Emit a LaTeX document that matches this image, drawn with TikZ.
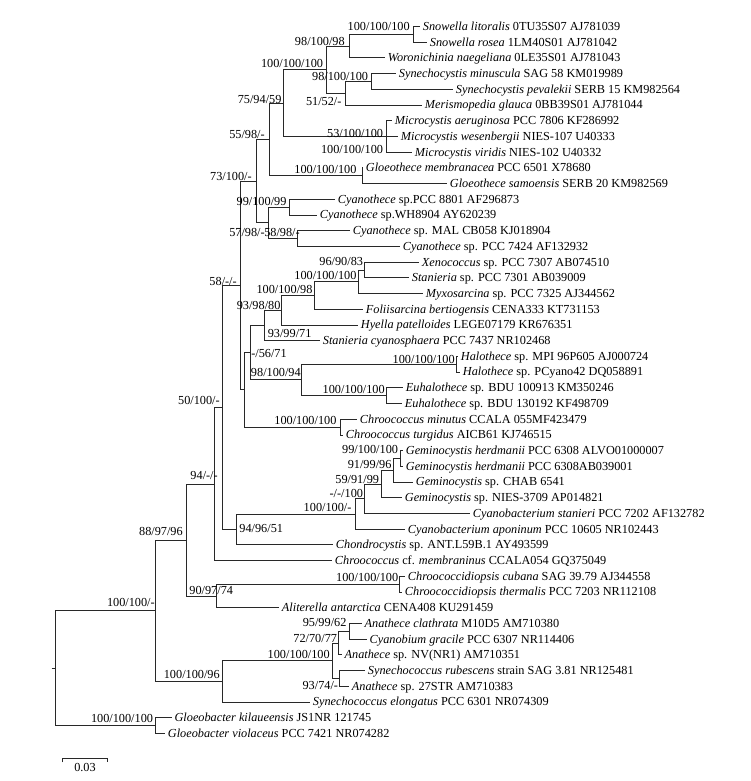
\documentclass[tikz,border=0pt]{standalone}
\usepackage{fontspec}
\setmainfont{Liberation Serif}
\usepackage{tikz}

\tikzset{
  branch/.style={color={rgb, 255:red, 40; green, 40; blue, 40 }, line width=0.75pt},
  taxon/.style={anchor=west, inner sep=2pt, text height=1.6ex, text depth=0.35ex},
  support/.style={anchor=east, inner sep=0pt, text height=1.6ex, text depth=0.3ex},
}

\begin{document}
\begin{tikzpicture}[x=0.75pt,y=0.75pt,yscale=-1,xscale=1, font=\fontsize{9.2}{11}\selectfont]
%set diagram left start at 0, and has height of 781
\useasboundingbox (0,0) rectangle (750,781);

% Text Node: taxa
\node [taxon] (t1) at (420,26.5) {\textit{Snowella litoralis} 0TU35S07 AJ781039};
\node [taxon] (t2) at (427,42.2) {\textit{Snowella rosea} 1LM40S01 AJ781042};
\node [taxon] (t3) at (385,57.9) {\textit{Woronichinia naegeliana} 0LE35S01 AJ781043};
\node [taxon] (t4) at (396,73.6) {\textit{Synechocystis minuscula} SAG 58 KM019989};
\node [taxon] (t5) at (453,89.3) {\textit{Synechocystis pevalekii} SERB 15 KM982564};
\node [taxon] (t6) at (422,105.1) {\textit{Merismopedia glauca} 0BB39S01 AJ781044};
\node [taxon] (t7) at (392,120.8) {\textit{Microcystis aeruginosa} PCC 7806 KF286992};
\node [taxon] (t8) at (398,136.5) {\textit{Microcystis wesenbergii} NIES-107 U40333};
\node [taxon] (t9) at (412,152.2) {\textit{Microcystis viridis} NIES-102 U40332};
\node [taxon] (t10) at (363,167.9) {\textit{Gloeothece membranacea} PCC 6501 X78680};
\node [taxon] (t11) at (447,183.6) {\textit{Gloeothece samoensis} SERB 20 KM982569};
\node [taxon] (t12) at (335,199.3) {\textit{Cyanothece} sp.PCC 8801 AF296873};
\node [taxon] (t13) at (317,215.0) {\textit{Cyanothece} sp.WH8904 AY620239};
\node [taxon] (t14) at (350,230.7) {\textit{Cyanothece} sp. MAL CB058 KJ018904};
\node [taxon] (t15) at (400,246.4) {\textit{Cyanothece} sp. PCC 7424 AF132932};
\node [taxon] (t16) at (419,262.2) {\textit{Xenococcus} sp. PCC 7307 AB074510};
\node [taxon] (t17) at (409,277.9) {\textit{Stanieria} sp. PCC 7301 AB039009};
\node [taxon] (t18) at (423,293.6) {\textit{Myxosarcina} sp. PCC 7325 AJ344562};
\node [taxon] (t19) at (363,309.3) {\textit{Foliisarcina bertiogensis} CENA333 KT731153};
\node [taxon] (t20) at (358,325.0) {\textit{Hyella patelloides} LEGE07179 KR676351};
\node [taxon] (t21) at (320,340.7) {\textit{Stanieria cyanosphaera} PCC 7437 NR102468};
\node [taxon] (t22) at (458,356.4) {\textit{Halothece} sp. MPI 96P605 AJ000724};
\node [taxon] (t23) at (460,372.1) {\textit{Halothece} sp. PCyano42 DQ058891};
\node [taxon] (t24) at (403,387.8) {\textit{Euhalothece} sp. BDU 100913 KM350246};
\node [taxon] (t25) at (402,403.5) {\textit{Euhalothece} sp. BDU 130192 KF498709};
\node [taxon] (t26) at (357,419.3) {\textit{Chroococcus minutus} CCALA 055MF423479};
\node [taxon] (t27) at (343,435.0) {\textit{Chroococcus turgidus} AICB61 KJ746515};
\node [taxon] (t28) at (403,450.7) {\textit{Geminocystis herdmanii} PCC 6308 ALVO01000007};
\node [taxon] (t29) at (403,466.4) {\textit{Geminocystis herdmanii} PCC 6308AB039001};
\node [taxon] (t30) at (413,482.1) {\textit{Geminocystis} sp. CHAB 6541};
\node [taxon] (t31) at (402,497.8) {\textit{Geminocystis} sp. NIES-3709 AP014821};
\node [taxon] (t32) at (470,513.5) {\textit{Cyanobacterium stanieri} PCC 7202 AF132782};
\node [taxon] (t33) at (405,529.2) {\textit{Cyanobacterium aponinum} PCC 10605 NR102443};
\node [taxon] (t34) at (333,544.9) {\textit{Chondrocystis} sp. ANT.L59B.1 AY493599};
\node [taxon] (t35) at (332,560.6) {\textit{Chroococcus} cf. \textit{membraninus} CCALA054 GQ375049};
\node [taxon] (t36) at (405,576.4) {\textit{Chroococcidiopsis cubana} SAG 39.79 AJ344558};
\node [taxon] (t37) at (402,592.1) {\textit{Chroococcidiopsis thermalis} PCC 7203 NR112108};
\node [taxon] (t38) at (279,607.8) {\textit{Aliterella antarctica} CENA408 KU291459};
\node [taxon] (t39) at (361.7,623.5) {\textit{Anathece clathrata} M10D5 AM710380};
\node [taxon] (t40) at (366.7,639.2) {\textit{Cyanobium gracile} PCC 6307 NR114406};
\node [taxon] (t41) at (341.7,654.9) {\textit{Anathece} sp. NV(NR1) AM710351};
\node [taxon] (t42) at (365,670.6) {\textit{Synechococcus rubescens} strain SAG 3.81 NR125481};
\node [taxon] (t43) at (349,686.3) {\textit{Anathece} sp. 27STR AM710383};
\node [taxon] (t44) at (310,702.0) {\textit{Synechococcus elongatus} PCC 6301 NR074309};
\node [taxon] (t45) at (171.7,717.8) {\textit{Gloeobacter kilaueensis} JS1NR 121745};
\node [taxon] (t46) at (165,733.5) {\textit{Gloeobacter violaceus} PCC 7421 NR074282};

% Internal nodes of the tree
\coordinate (nSno) at (413,34.35);
\coordinate (nWor) at (349,46.1);
\coordinate (nSyn) at (371,81.45);
\coordinate (nMer) at (345,93.3);
\coordinate (nSnC) at (326,69.7);
\coordinate (nMic) at (386,136.5);
\coordinate (nSnM) at (283,103.1);
\coordinate (nGlo) at (362,175.75);
\coordinate (nSnG) at (269,139.4);
\coordinate (nCy1) at (289,207.15);
\coordinate (nCy2) at (297,238.6);
\coordinate (nCya) at (268,222.9);
\coordinate (nUpp) at (256,181.15);
\coordinate (nXen) at (364,270.05);
\coordinate (nMyx) at (358,281.8);
\coordinate (nFol) at (314,295.6);
\coordinate (nHye) at (281.5,310.3);
\coordinate (nSta) at (264,325.5);
\coordinate (nHal) at (456,364.25);
\coordinate (nEuh) at (386,395.65);
\coordinate (nHaE) at (301.7,379.95);
\coordinate (nPle) at (250,352.7);
\coordinate (nChr) at (340,427.15);
\coordinate (nPlC) at (244,389.9);
\coordinate (nMid) at (240,285.5);
\coordinate (nGeh) at (400,458.55);
\coordinate (nGe1) at (393,470.3);
\coordinate (nGe2) at (381,484.05);
\coordinate (nCbs) at (364,498.8);
\coordinate (nCba) at (355,514.0);
\coordinate (nCho) at (236,529.45);
\coordinate (nCor) at (222.7,407.5);
\coordinate (nMem) at (214.3,484.05);
\coordinate (nCdp) at (399.5,584.25);
\coordinate (nAli) at (216.7,596.0);
\coordinate (nChA) at (186.5,540.0);
\coordinate (nAnc) at (349,631.35);
\coordinate (nAnN) at (338.3,643.1);
\coordinate (nSrb) at (339,678.45);
\coordinate (nSyc) at (332.7,660.8);
\coordinate (nSye) at (222.7,681.4);
\coordinate (nIng) at (155,610.7);
\coordinate (nGlb) at (155,725.65);
\coordinate (root) at (55.7,668.2);
\coordinate (rootstub) at (51.7,668.2);

%Straight Lines: branches
\draw [branch] (nSno) |- (t1.west) (nSno) |- (t2.west);
\draw [branch] (nWor) |- (nSno) (nWor) |- (t3.west);
\draw [branch] (nSyn) |- (t4.west) (nSyn) |- (t5.west);
\draw [branch] (nMer) |- (nSyn) (nMer) |- (t6.west);
\draw [branch] (nSnC) |- (nWor) (nSnC) |- (nMer);
\draw [branch] (nMic) |- (t7.west) (nMic) -- (t8.west) (nMic) |- (t9.west);
\draw [branch] (nSnM) |- (nSnC) (nSnM) |- (nMic);
\draw [branch] (nGlo) |- (t10.west) (nGlo) |- (t11.west);
\draw [branch] (nSnG) |- (nSnM) (nSnG) |- (nGlo);
\draw [branch] (nCy1) |- (t12.west) (nCy1) |- (t13.west);
\draw [branch] (nCy2) |- (t14.west) (nCy2) |- (t15.west);
\draw [branch] (nCya) |- (nCy1) (nCya) |- (nCy2);
\draw [branch] (nUpp) |- (nSnG) (nUpp) |- (nCya);
\draw [branch] (nXen) |- (t16.west) (nXen) |- (t17.west);
\draw [branch] (nMyx) |- (nXen) (nMyx) |- (t18.west);
\draw [branch] (nFol) |- (nMyx) (nFol) |- (t19.west);
\draw [branch] (nHye) |- (nFol) (nHye) |- (t20.west);
\draw [branch] (nSta) |- (nHye) (nSta) |- (t21.west);
\draw [branch] (nHal) |- (t22.west) (nHal) |- (t23.west);
\draw [branch] (nEuh) |- (t24.west) (nEuh) |- (t25.west);
\draw [branch] (nHaE) |- (nHal) (nHaE) |- (nEuh);
\draw [branch] (nPle) |- (nSta) (nPle) |- (nHaE);
\draw [branch] (nChr) |- (t26.west) (nChr) |- (t27.west);
\draw [branch] (nPlC) |- (nPle) (nPlC) |- (nChr);
\draw [branch] (nMid) |- (nUpp) (nMid) |- (nPlC);
\draw [branch] (nGeh) |- (t28.west) (nGeh) |- (t29.west);
\draw [branch] (nGe1) |- (nGeh) (nGe1) |- (t30.west);
\draw [branch] (nGe2) |- (nGe1) (nGe2) |- (t31.west);
\draw [branch] (nCbs) |- (nGe2) (nCbs) |- (t32.west);
\draw [branch] (nCba) |- (nCbs) (nCba) |- (t33.west);
\draw [branch] (nCho) |- (nCba) (nCho) |- (t34.west);
\draw [branch] (nCor) |- (nMid) (nCor) |- (nCho);
\draw [branch] (nMem) |- (nCor) (nMem) |- (t35.west);
\draw [branch] (nCdp) |- (t36.west) (nCdp) |- (t37.west);
\draw [branch] (nAli) |- (nCdp) (nAli) |- (t38.west);
\draw [branch] (nChA) |- (nMem) (nChA) |- (nAli);
\draw [branch] (nAnc) |- (t39.west) (nAnc) |- (t40.west);
\draw [branch] (nAnN) |- (nAnc) (nAnN) |- (t41.west);
\draw [branch] (nSrb) |- (t42.west) (nSrb) |- (t43.west);
\draw [branch] (nSyc) |- (nAnN) (nSyc) |- (nSrb);
\draw [branch] (nSye) |- (nSyc) (nSye) |- (t44.west);
\draw [branch] (nIng) |- (nChA) (nIng) |- (nSye);
\draw [branch] (nGlb) |- (t45.west) (nGlb) |- (t46.west);
\draw [branch] (root) |- (nIng) (root) |- (nGlb);
\draw [branch] (rootstub) -- (root);

% Text Node: support values
\node [support] (s1) at (410,26.7) {100/100/100};
\node [support] (s2) at (345,41.7) {98/100/98};
\node [support] (s3) at (323.3,63.3) {100/100/100};
\node [support] (s4) at (368.3,76.7) {98/100/100};
\node [support] (s5) at (341.7,101.7) {51/52/-};
\node [support] (s6) at (281.7,100) {75/94/59};
\node [support] (s7) at (265,135) {55/98/-};
\node [support] (s8) at (383.3,133.3) {53/100/100};
\node [support] (s9) at (383.3,150) {100/100/100};
\node [support] (s10) at (356.7,170) {100/100/100};
\node [support] (s11) at (252,176.7) {73/100/-};
\node [support] (s12) at (286.7,201.7) {99/100/99};
\node [support] (s13) at (265,232.3) {57/98/-};
\node [support] (s14) at (300,232.3) {58/98/-};
\node [support] (s15) at (363.3,261.7) {96/90/83};
\node [support] (s16) at (356.7,275.7) {100/100/100};
\node [support] (s17) at (312.7,290) {100/100/98};
\node [support] (s18) at (237,281.7) {58/-/-};
\node [support] (s19) at (280.7,305.7) {93/98/80};
\node [support] (s20) at (311.7,333.7) {93/99/71};
\node [support] (s21) at (287,353.3) {-/56/71};
\node [support] (s22) at (455,360) {100/100/100};
\node [support] (s23) at (301,373) {98/100/94};
\node [support] (s24) at (385,390) {100/100/100};
\node [support] (s25) at (220,400.7) {50/100/-};
\node [support] (s26) at (336.7,421) {100/100/100};
\node [support] (s27) at (398.3,450) {99/100/100};
\node [support] (s28) at (391.7,465) {91/99/96};
\node [support] (s29) at (379.3,479.3) {59/91/99};
\node [support] (s30) at (218,475.7) {94/-/-};
\node [support] (s31) at (363.3,493.3) {-/-/100};
\node [support] (s32) at (351.7,507.7) {100/100/-};
\node [support] (s33) at (283.3,529) {94/96/51};
\node [support] (s34) at (183,531.7) {88/97/96};
\node [support] (s35) at (398.5,577.3) {100/100/100};
\node [support] (s36) at (233.3,590.7) {90/97/74};
\node [support] (s37) at (155,603) {100/100/-};
\node [support] (s38) at (346.7,622.7) {95/99/62};
\node [support] (s39) at (337.3,638.3) {72/70/77};
\node [support] (s40) at (330,655) {100/100/100};
\node [support] (s41) at (220,675) {100/100/96};
\node [support] (s42) at (338.3,686) {93/74/-};
\node [support] (s43) at (153.3,718.3) {100/100/100};

% Scale bar
\coordinate (sbL) at (62.3,758.3);
\coordinate (sbR) at (107.7,758.3);
\draw [branch] ([yshift=3]sbL) -- (sbL) -- (sbR) -- ([yshift=3]sbR);
\node (sblabel) at (85,767) {0.03};

\end{tikzpicture}
\end{document}
